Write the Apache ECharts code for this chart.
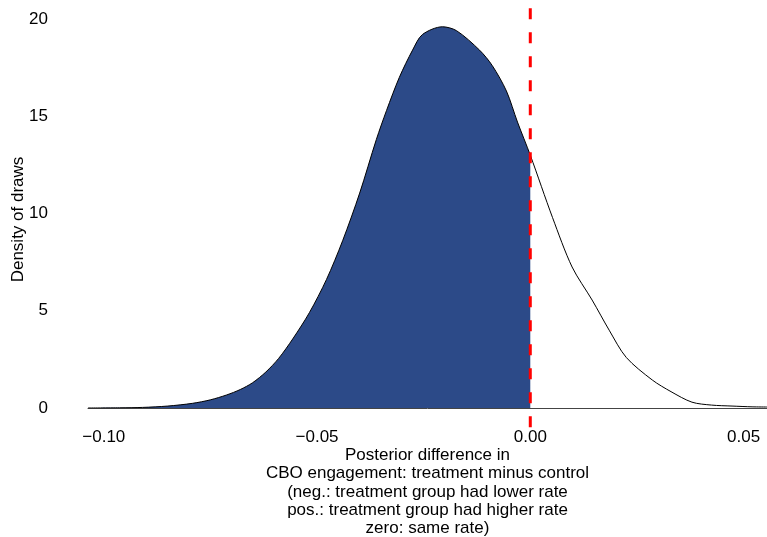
<!DOCTYPE html>
<html>
<head>
<meta charset="utf-8">
<script src="https://cdn.jsdelivr.net/npm/echarts@6/dist/echarts.min.js"></script>
<style>
  html, body { margin: 0; padding: 0; background: #fff; }
  #chart { width: 767px; height: 537px; }
</style>
</head>
<body>
<div id="chart"></div>
<script>
// Posterior difference (treatment minus control) and its kernel density
const diffValues = [
  -0.1037, -0.0963, -0.0909, -0.0850, -0.0792, -0.0750, -0.0712, -0.0680,
  -0.0651, -0.0620, -0.0590, -0.0557, -0.0518, -0.0478, -0.0440, -0.0400,
  -0.0361, -0.0337, -0.0307, -0.0276, -0.0253, -0.0206, -0.0173, -0.0119,
  -0.0089, -0.0056, -0.0030, 0.0000, 0.0052, 0.0098, 0.0145, 0.0185,
  0.0225, 0.0286, 0.0330, 0.0379, 0.0425, 0.0473, 0.0520, 0.0555
];
const densityValues = [
  0.00, 0.01, 0.03, 0.10, 0.24, 0.42, 0.67, 0.95,
  1.30, 1.85, 2.55, 3.55, 4.90, 6.60, 8.60, 11.05,
  13.80, 15.30, 17.00, 18.40, 19.20, 19.60, 19.40, 18.40,
  17.60, 16.30, 14.70, 13.00, 9.80, 7.25, 5.55, 4.00,
  2.60, 1.44, 0.84, 0.30, 0.15, 0.10, 0.06, 0.05
];
const xTicks = [-0.10, -0.05, 0.00, 0.05];
const yTicks = [0, 5, 10, 15, 20];
const zeroLineSpan = [20.55, -1.0];
const xTitle = 'Posterior difference in\nCBO engagement: treatment minus control\n(neg.: treatment group had lower rate\npos.: treatment group had higher rate\nzero: same rate)';
const yTitle = 'Density of draws';

const curve = diffValues.map((x, i) => [x, densityValues[i]]);
const negativePart = curve.filter(p => p[0] <= 0);

const font = '"Liberation Sans", Arial, Helvetica, sans-serif';
const chart = echarts.init(document.getElementById('chart'), null, { renderer: 'canvas' });

chart.setOption({
  animation: false,
  backgroundColor: '#ffffff',
  textStyle: { fontFamily: font, color: '#000' },
  grid: { left: 88, right: 0, top: 19, bottom: 129, containLabel: false, outerBoundsMode: 'none' },
  xAxis: {
    type: 'value',
    min: diffValues[0],
    max: diffValues[diffValues.length - 1],
    splitLine: { show: false },
    axisTick: { show: false },
    axisLine: { show: true, onZero: false, lineStyle: { color: '#444', width: 1 } },
    axisLabel: {
      customValues: xTicks,
      margin: 21,
      fontSize: 17,
      fontFamily: font,
      color: '#000',
      formatter: v => (v < 0 ? '\u2212' : '') + Math.abs(v).toFixed(2)
    },
    name: xTitle,
    nameLocation: 'middle',
    nameGap: 38,
    nameMoveOverlap: false,
    nameTextStyle: { fontSize: 17, lineHeight: 18.4, fontFamily: font, color: '#000', align: 'center' }
  },
  yAxis: {
    type: 'value',
    min: 0,
    max: 20,
    splitLine: { show: false },
    axisTick: { show: false },
    axisLine: { show: false },
    axisLabel: {
      customValues: yTicks,
      margin: 40,
      fontSize: 17,
      fontFamily: font,
      color: '#000'
    },
    name: yTitle,
    nameLocation: 'middle',
    nameGap: 61,
    nameMoveOverlap: false,
    nameTextStyle: { fontSize: 17, fontFamily: font, color: '#000', padding: [0, 12, 0, 0] }
  },
  series: [
    {
      name: 'negative',
      type: 'line',
      data: negativePart,
      smooth: 0.3,
      symbol: 'none',
      lineStyle: { width: 0 },
      areaStyle: { color: '#2c4a88', opacity: 1 },
      z: 2
    },
    {
      name: 'density',
      type: 'line',
      data: curve,
      smooth: 0.3,
      symbol: 'none',
      lineStyle: { color: '#000', width: 1 },
      z: 3
    },
    {
      name: 'zero',
      type: 'line',
      data: zeroLineSpan.map(y => [0, y]),
      clip: false,
      symbol: 'none',
      lineStyle: { color: '#ff0000', width: 3, type: [11, 13], cap: 'butt' },
      z: 4
    }
  ]
});
</script>
</body>
</html>
